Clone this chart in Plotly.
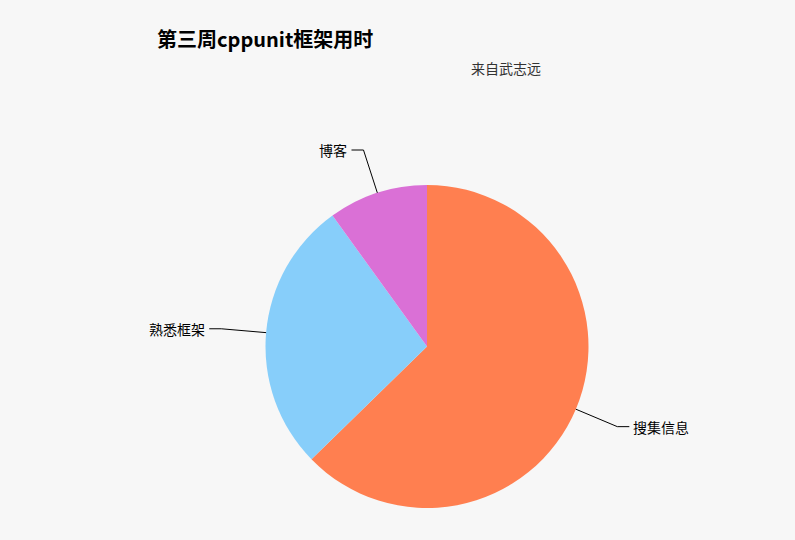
import math
import plotly.graph_objects as go

# Data
labels = ["搜集信息", "熟悉框架", "博客"]
values = [63, 27.5, 10]
colors = ["#ff7f50", "#87cefa", "#da70d6"]

title_text = "第三周cppunit框架用时"
subtitle_text = "来自武志远"

W, H = 795, 540
cx, cy, R = 427, 346.5, 161.5
L1, L2 = 45, 12
FONT = "Noto Sans CJK SC, Noto Sans, sans-serif"

def px(x):
    return x / W

def py(y):
    return 1 - y / H

fig = go.Figure(go.Pie(
    labels=labels,
    values=values,
    marker=dict(colors=colors, line=dict(width=0)),
    sort=False,
    direction="clockwise",
    rotation=0,
    textinfo="none",
    hoverinfo="label+value+percent",
    showlegend=False,
    domain=dict(x=[px(cx - R), px(cx + R)], y=[py(cy + R), py(cy - R)]),
))

shapes = []
annotations = []
total = sum(values)
acc = 0
for lab, v in zip(labels, values):
    mid = (acc + v / 2) / total * 360
    acc += v
    t = math.radians(mid)
    sx, sy = math.sin(t), -math.cos(t)
    x0, y0 = cx + R * sx, cy + R * sy
    x1, y1 = cx + (R + L1) * sx, cy + (R + L1) * sy
    side = 1 if sx >= 0 else -1
    x2, y2 = x1 + side * L2, y1
    path = f"M {px(x0)},{py(y0)} L {px(x1)},{py(y1)} L {px(x2)},{py(y2)}"
    shapes.append(dict(type="path", xref="paper", yref="paper", path=path,
                       line=dict(color="#000000", width=1)))
    annotations.append(dict(
        x=px(x2 + side * 2), y=py(y2), xref="paper", yref="paper",
        text=lab, showarrow=False,
        xanchor="left" if side > 0 else "right", yanchor="middle",
        font=dict(family=FONT, size=14, color="#000000"),
    ))

annotations.append(dict(
    x=px(543), y=py(68), xref="paper", yref="paper",
    text=subtitle_text, showarrow=False, xanchor="right", yanchor="middle",
    font=dict(family=FONT, size=14, color="#333333"),
))

fig.update_layout(
    width=W, height=H,
    margin=dict(l=0, r=0, t=0, b=0),
    paper_bgcolor="#f7f7f7",
    plot_bgcolor="#f7f7f7",
    title=dict(text="<b>" + title_text + "</b>", x=px(157), xanchor="left",
               y=py(40), yanchor="middle",
               font=dict(family=FONT, size=20, color="#000000")),
    shapes=shapes,
    annotations=annotations,
)

fig.write_html(
    "out.html",
    config={"displayModeBar": False},
    post_script="document.body.style.margin='0';document.body.style.background='#f7f7f7';",
)
